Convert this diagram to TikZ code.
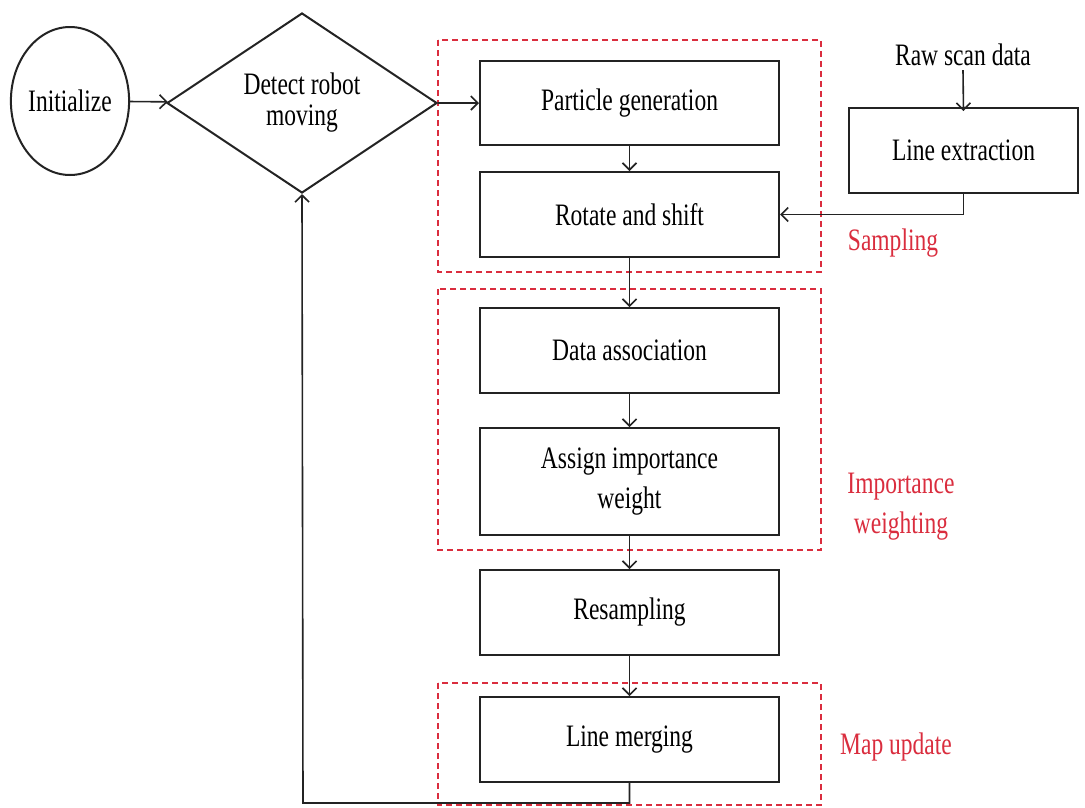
\documentclass[tikz,border=0pt]{standalone}
\usepackage{graphicx}
\usepackage{fontspec}
\setmainfont{Liberation Serif}
\usetikzlibrary{shapes.geometric,arrows.meta}
\definecolor{grpred}{RGB}{218,45,62}
\definecolor{lnk}{RGB}{35,35,35}
\newcommand{\tl}[1]{\scalebox{0.98}[1.3]{#1}}
\tikzset{
  every node/.style={font=\fontsize{24}{30}\selectfont, text=black},
  procbox/.style={draw=lnk, line width=2pt, rectangle, minimum width=299pt, inner sep=0pt},
  flow/.style={draw=lnk, line width=1.6pt, -{Straight Barb[length=7pt,width=14pt,line width=1.6pt]}},
  groupbox/.style={draw=grpred, line width=2pt, dash pattern=on 6pt off 4pt},
  grouplabel/.style={text=grpred, align=center, font=\fontsize{24}{40}\selectfont},
}
\begin{document}
\begin{tikzpicture}[x=1pt,y=-1pt]
\useasboundingbox[fill=white] (0,0) rectangle (1085,807);

% group frames
\draw[groupbox] (438,40) rectangle (821,272);
\draw[groupbox] (438,289) rectangle (821,550);
\draw[groupbox] (438,683) rectangle (821,805);

% nodes
\node[draw=lnk, line width=2pt, ellipse, minimum width=114pt, minimum height=148pt, inner sep=0pt] (init) at (70,101) {\tl{Initialize}};
\node[draw=lnk, line width=2pt, diamond, minimum width=270pt, minimum height=180pt, inner sep=0pt, align=center, font=\fontsize{24}{31}\selectfont] (detect) at (302,103) {\tl{Detect robot}\\\tl{moving}};
\node[procbox, minimum height=84pt] (pg) at (629.5,103) {\tl{Particle generation}};
\node[procbox, minimum height=85pt] (rs) at (629.5,214.5) {\tl{Rotate and shift}};
\node[inner sep=0pt, minimum height=30pt] (raw) at (963,55) {\tl{Raw scan data}};
\node[procbox, minimum width=229pt, minimum height=85pt] (le) at (963.5,150.5) {\tl{Line extraction}};
\node[procbox, minimum height=85pt] (da) at (629.5,350.5) {\tl{Data association}};
\node[procbox, minimum height=107pt, align=center, font=\fontsize{24}{40}\selectfont] (aiw) at (629.5,481.5) {\tl{Assign importance}\\\tl{weight}};
\node[procbox, minimum height=85pt] (resamp) at (629.5,612.5) {\tl{Resampling}};
\node[procbox, minimum height=85pt] (lm) at (629.5,739.5) {\tl{Line merging}};

% group labels
\node[grouplabel] (lsamp) at (893,243) {\tl{Sampling}};
\node[grouplabel] (limp) at (901,507) {\tl{Importance}\\\tl{weighting}};
\node[grouplabel] (lmap) at (896,747) {\tl{Map update}};

% connectors
\coordinate (c1) at (629.5,803);
\coordinate (c2) at (303,803);
\draw[flow] (init) -- (detect);
\draw[flow] (detect.east) -- (pg.west);
\draw[flow] (pg) -- (rs);
\draw[flow] (raw.south) -- ([yshift=-4pt]le.north);
\draw[flow] (le.south) |- (rs.east);
\draw[flow] (rs) -- (da);
\draw[flow] (da) -- (aiw);
\draw[flow] (aiw) -- (resamp);
\draw[flow] (resamp) -- (lm);
\draw[flow] (lm.south) -- (c1) -- (c2) -- (detect.south);
\end{tikzpicture}
\end{document}
